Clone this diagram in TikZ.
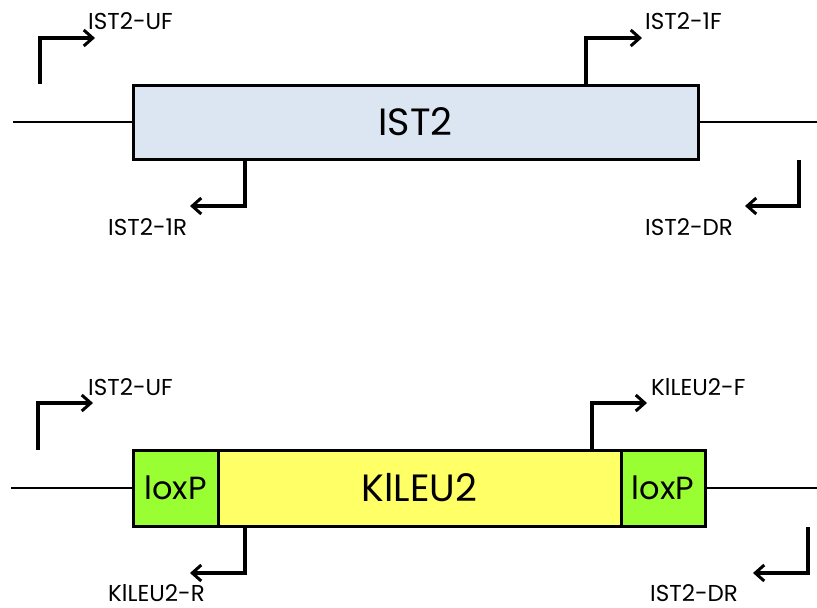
\documentclass[tikz,border=0pt]{standalone}
\usepackage{fontspec}
\setmainfont{Poppins}
\usetikzlibrary{arrows.meta}
\definecolor{istblue}{RGB}{220,230,242}
\definecolor{loxgreen}{RGB}{153,255,51}
\definecolor{klyellow}{RGB}{255,255,102}
\begin{document}
\begin{tikzpicture}[x=1pt,y=-1pt,
  genebox/.style={draw=black, line width=3pt, inner sep=0pt, minimum height=74pt},
  backbone/.style={draw=black, line width=2pt},
  primer/.style={draw=black, line width=3.2pt, line join=miter,
    -{Straight Barb[length=9pt,width=16pt,line width=3pt]}},
  plabel/.style={font=\fontsize{23}{26}\selectfont, inner sep=0pt},
  bigtext/.style={font=\fontsize{38}{42}\selectfont},
  loxtext/.style={font=\fontsize{32}{36}\selectfont}]
\useasboundingbox (0,0) rectangle (817,608);

% ---------- top: IST2 ----------
\node[genebox, fill=istblue, minimum width=565pt, minimum height=74pt, bigtext] (ist2) at (415.5,122) {IST2};
\coordinate (tl) at (13,122);
\coordinate (tr) at (817,122);
\draw[backbone] (tl) -- (ist2.west);
\draw[backbone] (ist2.east) -- (tr);

% IST2-UF
\coordinate (uf1s) at (40,84);
\coordinate (uf1e) at (95,38);
\draw[primer] (uf1s) |- (uf1e);
\node[plabel, anchor=west] (uf1l) at (88,21) {IST2-UF};

% IST2-1F
\coordinate (f1c) at (586,38);
\coordinate (f1e) at (642,38);
\draw[primer] (ist2.north -| f1c) -- (f1c) -- (f1e);
\node[plabel, anchor=west] (f1l) at (645,21) {IST2-1F};

% IST2-1R
\coordinate (r1c) at (245,206);
\coordinate (r1e) at (190,206);
\draw[primer] (ist2.south -| r1c) -- (r1c) -- (r1e);
\node[plabel, anchor=west] (r1l) at (108,227) {IST2-1R};

% IST2-DR
\coordinate (dr1s) at (799,160);
\coordinate (dr1e) at (745,206);
\draw[primer] (dr1s) |- (dr1e);
\node[plabel, anchor=west] (dr1l) at (645,227) {IST2-DR};

% ---------- bottom: loxP-KlLEU2-loxP ----------
\node[genebox, fill=loxgreen, minimum width=85pt, minimum height=76pt, loxtext] (loxl) at (175.5,488) {loxP};
\node[genebox, fill=klyellow, minimum width=403pt, minimum height=76pt, bigtext] (kl) at (419.5,488) {KlLEU2};
\node[genebox, fill=loxgreen, minimum width=84pt, minimum height=76pt, loxtext] (loxr) at (663,488) {loxP};
\coordinate (bl) at (11,488);
\coordinate (br) at (817,488);
\draw[backbone] (bl) -- (loxl.west);
\draw[backbone] (loxr.east) -- (br);

% IST2-UF
\coordinate (uf2s) at (38,450);
\coordinate (uf2e) at (93,403);
\draw[primer] (uf2s) |- (uf2e);
\node[plabel, anchor=west] (uf2l) at (88,387) {IST2-UF};

% KlLEU2-F
\coordinate (kfc) at (592,403);
\coordinate (kfe) at (647,403);
\draw[primer] (kl.north -| kfc) -- (kfc) -- (kfe);
\node[plabel, anchor=west] (kfl) at (651,387) {KlLEU2-F};

% KlLEU2-R
\coordinate (krc) at (245,573);
\coordinate (kre) at (190,573);
\draw[primer] (kl.south -| krc) -- (krc) -- (kre);
\node[plabel, anchor=west] (krl) at (108,593) {KlLEU2-R};

% IST2-DR
\coordinate (dr2s) at (808,527);
\coordinate (dr2e) at (753,573);
\draw[primer] (dr2s) |- (dr2e);
\node[plabel, anchor=west] (dr2l) at (650,593) {IST2-DR};
\end{tikzpicture}
\end{document}
